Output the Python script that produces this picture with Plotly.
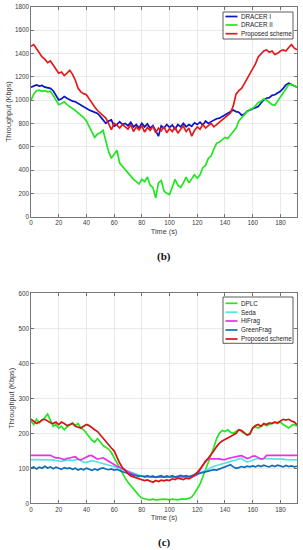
import plotly.graph_objects as go

W, H = 303, 550

# time axis (s)
time = list(range(0, 193, 2))

# ---------------- panel (b) ----------------
dracer1 = [1110, 1120, 1130, 1120, 1125, 1110, 1105, 1100, 1080, 1040,
           1000, 1010, 1030, 1015, 1000, 990, 985, 970, 955, 940,
           930, 915, 905, 895, 885, 860, 830, 800, 820, 830,
           775, 790, 815, 790, 800, 780, 810, 770, 790, 760,
           800, 770, 795, 760, 780, 740, 690, 780, 760, 790,
           765, 785, 750, 790, 770, 800, 770, 790, 775, 805,
           790, 810, 785, 820, 800, 815, 830, 840, 845, 860,
           870, 890, 905, 915, 900, 895, 870, 880, 905, 915,
           920, 935, 945, 975, 1000, 1015, 1020, 1040, 1045, 1060,
           1075, 1100, 1130, 1145, 1135, 1120, 1110]
dracer2 = [1000, 1050, 1080, 1085, 1075, 1080, 1070, 1075, 1040, 1000,
           960, 970, 985, 960, 945, 930, 910, 890, 870, 850,
           820, 770, 720, 680, 710, 720, 740, 640, 560, 500,
           540, 570, 460, 430, 400, 380, 350, 320, 300, 280,
           320, 300, 340, 270, 250, 160, 290, 310, 220, 200,
           190, 250, 320, 270, 250, 290, 340, 290, 320, 360,
           330, 360, 420, 440, 500, 520, 580, 630, 640, 660,
           680, 670, 700, 720, 760, 820, 850, 880, 900, 920,
           930, 950, 980, 990, 1010, 1000, 980, 960, 955, 990,
           1030, 1060, 1100, 1130, 1135, 1120, 1110]
proposed_b = [1460, 1475, 1440, 1400, 1370, 1350, 1320, 1335, 1300, 1270,
              1230, 1240, 1210, 1230, 1255, 1220, 1170, 1100, 1070, 1055,
              1045, 1010, 970, 940, 910, 890, 870, 845, 800, 745,
              800, 785, 760, 790, 770, 750, 790, 730, 770, 745,
              780, 725, 765, 740, 775, 720, 760, 735, 770, 720,
              755, 730, 770, 715, 750, 775, 730, 760, 690, 740,
              770, 750, 790, 760, 780, 800, 770, 790, 810, 830,
              850, 870, 890, 950, 1050, 1080, 1100, 1140, 1180, 1220,
              1260, 1310, 1370, 1400, 1420, 1430, 1410, 1420, 1390, 1400,
              1420, 1430, 1420, 1450, 1475, 1445, 1430]

# ---------------- panel (c) ----------------
dplc = [235, 225, 240, 230, 238, 245, 255, 235, 220, 225,
        215, 220, 210, 218, 225, 230, 222, 228, 215, 210,
        200, 190, 180, 175, 185, 175, 165, 160, 155, 145,
        130, 115, 100, 85, 72, 60, 50, 40, 30, 22,
        15, 12, 11, 10, 12, 10, 11, 10, 12, 11,
        10, 12, 11, 10, 12, 11, 12, 14, 18, 28,
        40, 55, 75, 95, 115, 140, 160, 185, 200, 208,
        205, 210, 203, 200, 205, 210, 205, 200, 195, 200,
        215, 218, 215, 220, 225, 222, 225, 228, 232, 228,
        232, 225, 220, 215, 222, 225, 220]
seda = [125, 125, 124, 124, 125, 126, 126, 126, 124, 122,
        120, 120, 122, 124, 124, 122, 124, 126, 122, 117,
        117, 120, 122, 120, 118, 114, 112, 110, 108, 106,
        104, 102, 100, 97, 94, 91, 88, 85, 82, 80,
        78, 77, 76, 76, 75, 75, 75, 76, 75, 75,
        76, 75, 75, 76, 75, 75, 76, 76, 76, 78,
        82, 86, 90, 95, 100, 104, 106, 108, 110, 112,
        114, 116, 118, 120, 124, 127, 128, 122, 118, 120,
        124, 126, 128, 128, 128, 127, 127, 127, 126, 126,
        126, 126, 125, 125, 125, 125, 124]
hifrag = [137, 137, 137, 137, 137, 137, 137, 137, 133, 130,
          130, 128, 125, 128, 130, 133, 133, 126, 124, 128,
          133, 136, 136, 130, 126, 128, 130, 125, 120, 115,
          110, 106, 103, 100, 95, 90, 86, 83, 80, 78,
          77, 76, 76, 75, 75, 75, 75, 75, 75, 75,
          75, 75, 75, 75, 75, 75, 75, 75, 76, 78,
          82, 95, 110, 122, 127, 127, 128, 128, 127, 125,
          125, 128, 130, 133, 135, 135, 136, 133, 128, 130,
          135, 135, 130, 126, 128, 137, 137, 137, 137, 137,
          137, 137, 137, 137, 137, 137, 137]
greenfrag = [100, 104, 98, 103, 100, 106, 101, 104, 99, 103,
             100, 97, 102, 99, 101, 97, 100, 95, 99, 96,
             100, 97, 94, 98, 95, 99, 101, 98, 96, 98,
             95, 97, 93, 90, 88, 85, 83, 80, 79, 77,
             78, 75, 79, 76, 78, 74, 77, 79, 75, 78,
             76, 79, 75, 78, 80, 77, 79, 76, 80, 82,
             84, 86, 88, 90, 92, 94, 96, 95, 98, 100,
             104, 106, 110, 104, 100, 102, 105, 103, 106, 104,
             107, 104, 108, 105, 109, 106, 104, 108, 105, 109,
             106, 104, 108, 105, 107, 104, 106]
proposed_c = [240, 235, 228, 232, 238, 240, 235, 230, 228, 232,
              225, 232, 228, 222, 225, 228, 220, 218, 215, 220,
              225, 222, 215, 210, 205, 195, 185, 175, 165, 158,
              150, 130, 115, 102, 92, 85, 78, 75, 72, 70,
              68, 65, 67, 63, 60, 65, 62, 66, 64, 67,
              65, 70, 68, 72, 70, 68, 72, 70, 74, 80,
              88, 98, 108, 120, 130, 140, 150, 162, 172, 178,
              182, 185, 190, 195, 200, 210, 208, 200, 195, 198,
              215, 222, 225, 220, 228, 225, 230, 228, 232, 230,
              235, 240, 238, 240, 235, 232, 225]

top_series = [("DRACER I", dracer1, "#0a14c8"),
              ("DRACER II", dracer2, "#22e622"),
              ("Proposed scheme", proposed_b, "#e21a1a")]
bot_series = [("DPLC", dplc, "#22e622"),
              ("Seda", seda, "#55e3e3"),
              ("HiFrag", hifrag, "#e632e6"),
              ("GreenFrag", greenfrag, "#0f6fb5"),
              ("Proposed scheme", proposed_c, "#d41414")]

def fx(p):
    return p / W

def fy(p):
    return 1 - p / H

fig = go.Figure()
for name, vals, col in top_series:
    fig.add_trace(go.Scatter(x=time, y=vals, mode="lines", name=name,
                             line=dict(color=col, width=1.7),
                             xaxis="x", yaxis="y", showlegend=False))
for name, vals, col in bot_series:
    fig.add_trace(go.Scatter(x=time, y=vals, mode="lines", name=name,
                             line=dict(color=col, width=1.7),
                             xaxis="x2", yaxis="y2", showlegend=False))

tickfont = dict(family="Liberation Sans, Arial, sans-serif", size=6.3, color="#3a3a3a")
titlefont = dict(family="Liberation Sans, Arial, sans-serif", size=7.3, color="#3a3a3a")
common = dict(showline=True, linecolor="#555555", linewidth=0.8, mirror="allticks",
              ticks="inside", ticklen=3, tickcolor="#555555", tickwidth=0.8,
              showgrid=True, gridcolor="#e4e4e4", gridwidth=0.8, zeroline=False,
              tickfont=tickfont, automargin=False)

xdom = [fx(31), fx(297)]
fig.update_layout(
    width=W, height=H, autosize=False,
    margin=dict(l=0, r=0, t=0, b=0),
    paper_bgcolor="white", plot_bgcolor="white",
    xaxis=dict(domain=xdom, range=[0, 192], tickvals=list(range(0, 181, 20)),
               anchor="y", title=dict(text="Time (s)", font=titlefont, standoff=3), **common),
    yaxis=dict(domain=[fy(216.7), fy(6.7)], range=[0, 1800], tickvals=list(range(0, 1801, 200)),
               anchor="x", title=dict(text="Throughput (Kbps)", font=titlefont, standoff=2), **common),
    xaxis2=dict(domain=xdom, range=[0, 192], tickvals=list(range(0, 181, 20)),
                anchor="y2", title=dict(text="Time (s)", font=titlefont, standoff=3), **common),
    yaxis2=dict(domain=[fy(503.3), fy(293.3)], range=[0, 600], tickvals=list(range(0, 601, 100)),
                anchor="x2", title=dict(text="Throughput (Kbps)", font=titlefont, standoff=2), **common),
)

shapes = []
annotations = []

def add_legend(x0, x1, y0, y1, rows, series):
    shapes.append(dict(type="rect", xref="paper", yref="paper",
                       x0=fx(x0), x1=fx(x1), y0=fy(y1), y1=fy(y0),
                       line=dict(color="#333333", width=0.8), fillcolor="white", layer="above"))
    for yy, (name, _, col) in zip(rows, series):
        shapes.append(dict(type="line", xref="paper", yref="paper",
                           x0=fx(x0 + 2.5), x1=fx(x0 + 14.5), y0=fy(yy), y1=fy(yy),
                           line=dict(color=col, width=1.7), layer="above"))
        annotations.append(dict(text=name, xref="paper", yref="paper",
                                x=fx(x0 + 15.8), y=fy(yy), xanchor="left", yanchor="middle",
                                showarrow=False,
                                font=dict(family="Liberation Sans, Arial, sans-serif",
                                          size=6.3, color="#222222")))

add_legend(223, 293, 12, 39, [16.5, 25.0, 33.7], top_series)
add_legend(223, 293, 297, 343.3, [303.3, 312.2, 321.0, 330.0, 339.0], bot_series)

for txt, yy in [("(b)", 256), ("(c)", 542)]:
    annotations.append(dict(text="<b>%s</b>" % txt, xref="paper", yref="paper",
                            x=fx(164), y=fy(yy), xanchor="center", yanchor="middle",
                            showarrow=False,
                            font=dict(family="Liberation Serif, Times New Roman, serif",
                                      size=11, color="#111111")))

fig.update_layout(shapes=shapes, annotations=annotations)
fig.write_html("out.html",
               config={"displayModeBar": False, "staticPlot": True},
               post_script="document.body.style.margin='0';document.body.style.overflow='hidden';")

# remove the default page margin so the figure sits at the window origin
with open("out.html", "r", encoding="utf-8") as f:
    html = f.read()
html = html.replace("<body>", "<body style=\"margin:0;padding:0;overflow:hidden\">", 1)
with open("out.html", "w", encoding="utf-8") as f:
    f.write(html)
